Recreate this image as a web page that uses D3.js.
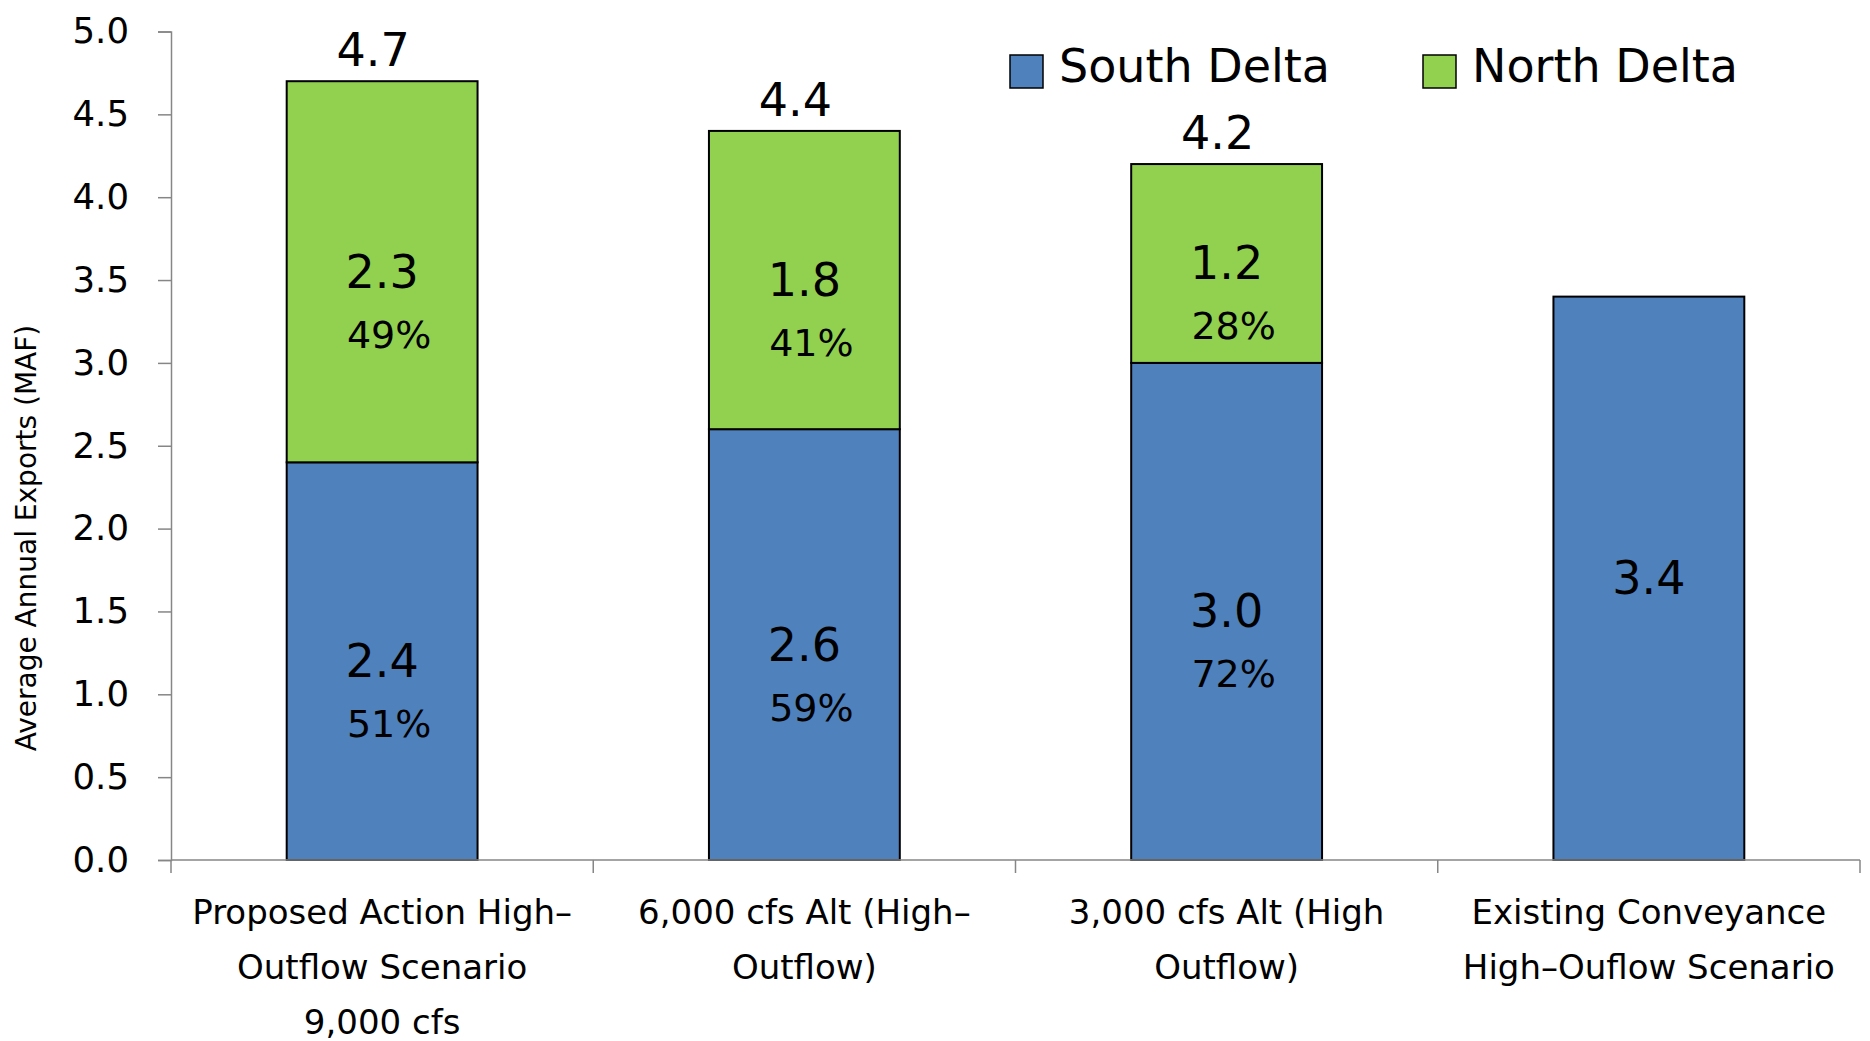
<!DOCTYPE html>
<html>
<head>
<meta charset="utf-8">
<script src="https://cdn.jsdelivr.net/npm/d3@7"></script>
<style>
  html, body { margin: 0; padding: 0; background: #fff; }
  svg { display: block; font-family: "DejaVu Sans", sans-serif; }
</style>
</head>
<body>
<svg id="chart" width="1870" height="1041"></svg>
<script>
// Scenario names, wrapped as they appear under each bar
const categories = [
  "Proposed Action High-Outflow Scenario 9,000 cfs",
  "6,000 cfs Alt (High-Outflow)",
  "3,000 cfs Alt (High Outflow)",
  "Existing Conveyance High-Ouflow Scenario"
];
const categoryLines = [
  ["Proposed Action High\u2013", "Outflow Scenario", "9,000 cfs"],
  ["6,000 cfs Alt (High\u2013", "Outflow)"],
  ["3,000 cfs Alt (High", "Outflow)"],
  ["Existing Conveyance", "High\u2013Ouflow Scenario"]
];

// Average annual exports (MAF) by diversion point
const southDelta = [2.4, 2.6, 3.0, 3.4];
const northDelta = [2.3, 1.8, 1.2, 0];

// Share of total exports
const southShare = ["51%", "59%", "72%", null];
const northShare = ["49%", "41%", "28%", null];

const seriesNames = ["South Delta", "North Delta"];
const seriesColors = ["#4F81BD", "#92D050"];

const yTicks = [0, 0.5, 1.0, 1.5, 2.0, 2.5, 3.0, 3.5, 4.0, 4.5, 5.0];

// ---- layout ----
const svg = d3.select("#chart");
const margin = { left: 171, right: 10, top: 31.5, bottom: 181 };
const W = 1870, H = 1041;
const plotLeft = margin.left, plotRight = W - margin.right;
const plotTop = margin.top, plotBottom = H - margin.bottom;

const x = d3.scaleBand().domain(categories).range([plotLeft, plotRight]).padding(0);
const barFrac = 0.452;
const y = d3.scaleLinear().domain([0, 5]).range([plotBottom, plotTop]);

const rows = categories.map((c, i) => ({
  cat: c, south: southDelta[i], north: northDelta[i], i
}));
const stack = d3.stack().keys(["south", "north"]);
const stacked = stack(rows);

const axisColor = "#868686";

// ---- y axis ----
const yAxis = d3.axisLeft(y).tickValues(yTicks).tickFormat(d3.format(".1f"))
  .tickSize(13).tickPadding(29);
const gy = svg.append("g").attr("transform", `translate(${plotLeft},0)`).call(yAxis);
gy.select(".domain").attr("stroke", axisColor).attr("stroke-width", 1.5);
gy.selectAll(".tick line").attr("stroke", axisColor).attr("stroke-width", 1.5);
gy.selectAll(".tick text").attr("fill", "#000").style("font-size", "35.5px")
  .style("font-family", "DejaVu Sans, sans-serif");

// y axis title
svg.append("text")
  .attr("transform", `translate(26, 538) rotate(-90)`)
  .attr("text-anchor", "middle")
  .attr("dominant-baseline", "central")
  .style("font-size", "28px")
  .text("Average Annual Exports (MAF)");

// ---- bars ----
const barW = x.bandwidth() * barFrac;
const barX = c => x(c) + (x.bandwidth() - barW) / 2;

const layers = svg.append("g").selectAll("g")
  .data(stacked).join("g")
  .attr("fill", (d, i) => seriesColors[i]);

layers.selectAll("rect")
  .data(d => d.filter(s => s[1] - s[0] > 0))
  .join("rect")
  .attr("x", d => barX(d.data.cat))
  .attr("y", d => y(d[1]))
  .attr("width", barW)
  .attr("height", d => y(d[0]) - y(d[1]))
  .attr("stroke", "#000")
  .attr("stroke-width", 2);

// ---- x axis with category separators ----
const gx = svg.append("g");
gx.append("line")
  .attr("x1", plotLeft).attr("x2", plotRight)
  .attr("y1", y(0)).attr("y2", y(0))
  .attr("stroke", axisColor).attr("stroke-width", 1.5);
const bounds = categories.map(c => x(c)).concat([x(categories[categories.length - 1]) + x.bandwidth()]);
gx.selectAll("line.sep").data(bounds).join("line")
  .attr("class", "sep")
  .attr("x1", d => d).attr("x2", d => d)
  .attr("y1", y(0)).attr("y2", y(0) + 13)
  .attr("stroke", axisColor).attr("stroke-width", 1.5);

// category labels
const catG = svg.append("g");
categories.forEach((c, i) => {
  const t = catG.append("text")
    .attr("x", x(c) + x.bandwidth() / 2)
    .attr("y", 924)
    .attr("text-anchor", "middle")
    .style("font-size", "34px");
  categoryLines[i].forEach((line, k) => {
    t.append("tspan").attr("x", x(c) + x.bandwidth() / 2)
      .attr("dy", k === 0 ? 0 : 55).text(line);
  });
});

// ---- segment labels ----
const fmt = d3.format(".1f");
const labelG = svg.append("g");
stacked.forEach((layer, li) => {
  const shares = li === 0 ? southShare : northShare;
  layer.forEach((seg, i) => {
    const v = seg[1] - seg[0];
    if (v <= 0) return;
    const cx = x(seg.data.cat) + x.bandwidth() / 2;
    const cy = y((seg[0] + seg[1]) / 2);
    labelG.append("text")
      .attr("x", cx).attr("y", cy)
      .attr("text-anchor", "middle")
      .attr("dominant-baseline", "central")
      .style("font-size", "46px")
      .text(fmt(v));
    if (shares[i]) {
      labelG.append("text")
        .attr("x", cx + 7).attr("y", cy + 63)
        .attr("text-anchor", "middle")
        .attr("dominant-baseline", "central")
        .style("font-size", "38px")
        .text(shares[i]);
    }
  });
});

// totals above the split bars
rows.forEach(r => {
  if (r.north <= 0) return;
  const total = r.south + r.north;
  labelG.append("text")
    .attr("x", x(r.cat) + x.bandwidth() / 2 - 9)
    .attr("y", y(total) - 31)
    .attr("text-anchor", "middle")
    .attr("dominant-baseline", "central")
    .style("font-size", "46px")
    .text(fmt(total));
});

// ---- legend ----
const legend = svg.append("g");
const legendX = [1010, 1423];
seriesNames.forEach((name, i) => {
  const g = legend.append("g").attr("transform", `translate(${legendX[i]}, 55)`);
  g.append("rect").attr("width", 33).attr("height", 33)
    .attr("fill", seriesColors[i]).attr("stroke", "#000").attr("stroke-width", 1.5);
  g.append("text").attr("x", 49).attr("y", 27)
    .style("font-size", "46px").text(name);
});
</script>
</body>
</html>
